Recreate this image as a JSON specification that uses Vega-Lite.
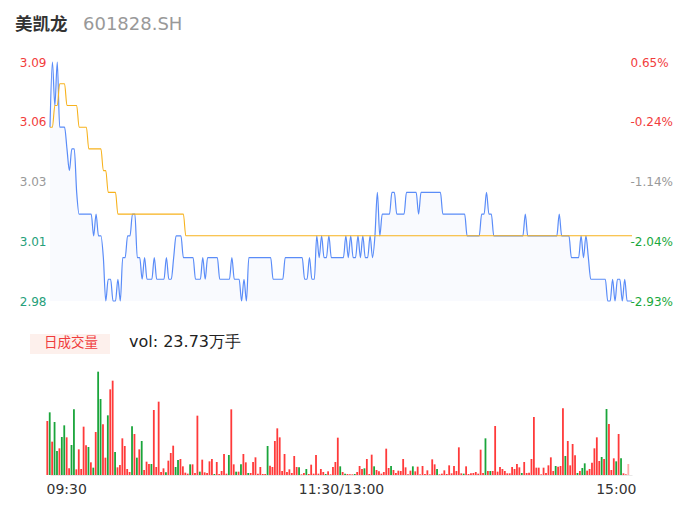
{
"$schema": "https://vega.github.io/schema/vega-lite/v6.json",
"width": 582, "height": 413,
"autosize": "none",
"padding": {"left": 50, "top": 62, "right": 54, "bottom": 49},
"background": "white",
"config": {"view": {"stroke": null}, "font": "DejaVu Sans"},
"data": {"values": [
{"i":0,"p":3.06,"a":3.06,"v":2592,"d":"u"},{"i":1,"p":3.09,"a":3.06,"v":3008,"d":"d"},{"i":2,"p":3.07,"a":3.07,"v":1600,"d":"u"},{"i":3,"p":3.09,"a":3.07,"v":2544,"d":"d"},{"i":4,"p":3.06,"a":3.08,"v":1152,"d":"d"},{"i":5,"p":3.06,"a":3.08,"v":1280,"d":"u"},{"i":6,"p":3.06,"a":3.08,"v":1824,"d":"d"},{"i":7,"p":3.05,"a":3.07,"v":2384,"d":"d"},{"i":8,"p":3.04,"a":3.07,"v":1808,"d":"u"},{"i":9,"p":3.05,"a":3.07,"v":320,"d":"u"},
{"i":10,"p":3.05,"a":3.07,"v":1440,"d":"d"},{"i":11,"p":3.03,"a":3.07,"v":3152,"d":"d"},{"i":12,"p":3.02,"a":3.06,"v":272,"d":"u"},{"i":13,"p":3.02,"a":3.06,"v":1232,"d":"u"},{"i":14,"p":3.02,"a":3.06,"v":288,"d":"u"},{"i":15,"p":3.02,"a":3.06,"v":2320,"d":"u"},{"i":16,"p":3.02,"a":3.05,"v":1424,"d":"u"},{"i":17,"p":3.02,"a":3.05,"v":1344,"d":"d"},{"i":18,"p":3.01,"a":3.05,"v":608,"d":"u"},{"i":19,"p":3.02,"a":3.05,"v":352,"d":"d"},
{"i":20,"p":3.01,"a":3.05,"v":2064,"d":"u"},{"i":21,"p":3.01,"a":3.05,"v":4960,"d":"d"},{"i":22,"p":3.00,"a":3.04,"v":3648,"d":"d"},{"i":23,"p":2.98,"a":3.04,"v":2432,"d":"u"},{"i":24,"p":2.99,"a":3.03,"v":832,"d":"u"},{"i":25,"p":2.99,"a":3.03,"v":2864,"d":"d"},{"i":26,"p":2.98,"a":3.03,"v":4112,"d":"u"},{"i":27,"p":2.98,"a":3.03,"v":4528,"d":"u"},{"i":28,"p":2.99,"a":3.02,"v":1104,"d":"d"},{"i":29,"p":2.98,"a":3.02,"v":368,"d":"u"},
{"i":30,"p":3.00,"a":3.02,"v":480,"d":"u"},{"i":31,"p":3.00,"a":3.02,"v":1760,"d":"u"},{"i":32,"p":3.01,"a":3.02,"v":1392,"d":"u"},{"i":33,"p":3.01,"a":3.02,"v":288,"d":"u"},{"i":34,"p":3.02,"a":3.02,"v":144,"d":"u"},{"i":35,"p":3.02,"a":3.02,"v":2336,"d":"d"},{"i":36,"p":3.00,"a":3.02,"v":1968,"d":"u"},{"i":37,"p":3.00,"a":3.02,"v":832,"d":"d"},{"i":38,"p":2.99,"a":3.02,"v":1232,"d":"u"},{"i":39,"p":3.00,"a":3.02,"v":1632,"d":"d"},
{"i":40,"p":2.99,"a":3.02,"v":240,"d":"u"},{"i":41,"p":2.99,"a":3.02,"v":640,"d":"u"},{"i":42,"p":2.99,"a":3.02,"v":528,"d":"u"},{"i":43,"p":3.00,"a":3.02,"v":528,"d":"d"},{"i":44,"p":2.99,"a":3.02,"v":3120,"d":"u"},{"i":45,"p":2.99,"a":3.02,"v":384,"d":"u"},{"i":46,"p":2.99,"a":3.02,"v":3520,"d":"u"},{"i":47,"p":2.99,"a":3.02,"v":144,"d":"u"},{"i":48,"p":3.00,"a":3.02,"v":320,"d":"u"},{"i":49,"p":2.99,"a":3.02,"v":128,"d":"d"},
{"i":50,"p":2.99,"a":3.02,"v":688,"d":"u"},{"i":51,"p":3.00,"a":3.02,"v":1056,"d":"u"},{"i":52,"p":3.01,"a":3.02,"v":1408,"d":"u"},{"i":53,"p":3.01,"a":3.02,"v":384,"d":"d"},{"i":54,"p":3.01,"a":3.02,"v":720,"d":"d"},{"i":55,"p":3.00,"a":3.02,"v":768,"d":"u"},{"i":56,"p":3.00,"a":3.01,"v":416,"d":"u"},{"i":57,"p":3.00,"a":3.01,"v":112,"d":"u"},{"i":58,"p":3.00,"a":3.01,"v":64,"d":"u"},{"i":59,"p":3.00,"a":3.01,"v":512,"d":"d"},
{"i":60,"p":2.99,"a":3.01,"v":512,"d":"u"},{"i":61,"p":2.99,"a":3.01,"v":96,"d":"u"},{"i":62,"p":2.99,"a":3.01,"v":2848,"d":"u"},{"i":63,"p":3.00,"a":3.01,"v":160,"d":"d"},{"i":64,"p":2.99,"a":3.01,"v":736,"d":"u"},{"i":65,"p":3.00,"a":3.01,"v":128,"d":"u"},{"i":66,"p":3.00,"a":3.01,"v":96,"d":"u"},{"i":67,"p":3.00,"a":3.01,"v":656,"d":"u"},{"i":68,"p":3.00,"a":3.01,"v":768,"d":"u"},{"i":69,"p":3.00,"a":3.01,"v":48,"d":"d"},
{"i":70,"p":2.99,"a":3.01,"v":624,"d":"u"},{"i":71,"p":2.99,"a":3.01,"v":48,"d":"u"},{"i":72,"p":2.99,"a":3.01,"v":192,"d":"u"},{"i":73,"p":2.99,"a":3.01,"v":1008,"d":"u"},{"i":74,"p":2.99,"a":3.01,"v":64,"d":"u"},{"i":75,"p":3.00,"a":3.01,"v":960,"d":"d"},{"i":76,"p":2.99,"a":3.01,"v":3152,"d":"u"},{"i":77,"p":2.99,"a":3.01,"v":512,"d":"u"},{"i":78,"p":2.99,"a":3.01,"v":160,"d":"d"},{"i":79,"p":2.98,"a":3.01,"v":160,"d":"u"},
{"i":80,"p":2.99,"a":3.01,"v":512,"d":"d"},{"i":81,"p":2.98,"a":3.01,"v":1008,"d":"u"},{"i":82,"p":3.00,"a":3.01,"v":608,"d":"u"},{"i":83,"p":3.00,"a":3.01,"v":96,"d":"d"},{"i":84,"p":3.00,"a":3.01,"v":96,"d":"u"},{"i":85,"p":3.00,"a":3.01,"v":624,"d":"u"},{"i":86,"p":3.00,"a":3.01,"v":848,"d":"u"},{"i":87,"p":3.00,"a":3.01,"v":64,"d":"u"},{"i":88,"p":3.00,"a":3.01,"v":384,"d":"u"},{"i":89,"p":3.00,"a":3.01,"v":48,"d":"u"},
{"i":90,"p":3.00,"a":3.01,"v":48,"d":"u"},{"i":91,"p":3.00,"a":3.01,"v":1392,"d":"d"},{"i":92,"p":2.99,"a":3.01,"v":448,"d":"u"},{"i":93,"p":2.99,"a":3.01,"v":384,"d":"u"},{"i":94,"p":2.99,"a":3.01,"v":1632,"d":"u"},{"i":95,"p":2.99,"a":3.01,"v":2240,"d":"u"},{"i":96,"p":2.99,"a":3.01,"v":1808,"d":"u"},{"i":97,"p":3.00,"a":3.01,"v":192,"d":"u"},{"i":98,"p":3.00,"a":3.01,"v":1008,"d":"u"},{"i":99,"p":3.00,"a":3.01,"v":144,"d":"u"},
{"i":100,"p":3.00,"a":3.01,"v":272,"d":"u"},{"i":101,"p":3.00,"a":3.01,"v":96,"d":"u"},{"i":102,"p":3.00,"a":3.01,"v":912,"d":"u"},{"i":103,"p":3.00,"a":3.01,"v":384,"d":"u"},{"i":104,"p":3.00,"a":3.01,"v":368,"d":"d"},{"i":105,"p":2.99,"a":3.01,"v":32,"d":"u"},{"i":106,"p":2.99,"a":3.01,"v":96,"d":"u"},{"i":107,"p":3.00,"a":3.01,"v":288,"d":"d"},{"i":108,"p":2.99,"a":3.01,"v":48,"d":"u"},{"i":109,"p":2.99,"a":3.01,"v":496,"d":"u"},
{"i":110,"p":3.01,"a":3.01,"v":64,"d":"u"},{"i":111,"p":3.00,"a":3.01,"v":960,"d":"u"},{"i":112,"p":3.01,"a":3.01,"v":64,"d":"u"},{"i":113,"p":3.00,"a":3.01,"v":288,"d":"u"},{"i":114,"p":3.00,"a":3.01,"v":144,"d":"u"},{"i":115,"p":3.01,"a":3.01,"v":48,"d":"d"},{"i":116,"p":3.00,"a":3.01,"v":176,"d":"u"},{"i":117,"p":3.00,"a":3.01,"v":32,"d":"u"},{"i":118,"p":3.00,"a":3.01,"v":384,"d":"u"},{"i":119,"p":3.00,"a":3.01,"v":624,"d":"u"},
{"i":120,"p":3.00,"a":3.01,"v":1792,"d":"u"},{"i":121,"p":3.00,"a":3.01,"v":416,"d":"d"},{"i":122,"p":3.01,"a":3.01,"v":144,"d":"u"},{"i":123,"p":3.00,"a":3.01,"v":64,"d":"d"},{"i":124,"p":3.01,"a":3.01,"v":48,"d":"u"},{"i":125,"p":3.00,"a":3.01,"v":32,"d":"u"},{"i":126,"p":3.00,"a":3.01,"v":32,"d":"u"},{"i":127,"p":3.01,"a":3.01,"v":48,"d":"d"},{"i":128,"p":3.00,"a":3.01,"v":144,"d":"u"},{"i":129,"p":3.01,"a":3.01,"v":432,"d":"u"},
{"i":130,"p":3.00,"a":3.01,"v":288,"d":"u"},{"i":131,"p":3.00,"a":3.01,"v":320,"d":"d"},{"i":132,"p":3.01,"a":3.01,"v":768,"d":"u"},{"i":133,"p":3.00,"a":3.01,"v":48,"d":"u"},{"i":134,"p":3.01,"a":3.01,"v":976,"d":"u"},{"i":135,"p":3.03,"a":3.01,"v":416,"d":"d"},{"i":136,"p":3.01,"a":3.01,"v":240,"d":"u"},{"i":137,"p":3.02,"a":3.01,"v":176,"d":"u"},{"i":138,"p":3.02,"a":3.01,"v":64,"d":"u"},{"i":139,"p":3.02,"a":3.01,"v":144,"d":"u"},
{"i":140,"p":3.02,"a":3.01,"v":1264,"d":"u"},{"i":141,"p":3.03,"a":3.01,"v":336,"d":"u"},{"i":142,"p":3.03,"a":3.01,"v":432,"d":"d"},{"i":143,"p":3.02,"a":3.01,"v":240,"d":"u"},{"i":144,"p":3.02,"a":3.01,"v":96,"d":"u"},{"i":145,"p":3.02,"a":3.01,"v":208,"d":"u"},{"i":146,"p":3.02,"a":3.01,"v":192,"d":"u"},{"i":147,"p":3.03,"a":3.01,"v":768,"d":"u"},{"i":148,"p":3.03,"a":3.01,"v":368,"d":"u"},{"i":149,"p":3.03,"a":3.01,"v":32,"d":"u"},
{"i":150,"p":3.03,"a":3.01,"v":208,"d":"u"},{"i":151,"p":3.03,"a":3.01,"v":416,"d":"d"},{"i":152,"p":3.02,"a":3.01,"v":176,"d":"u"},{"i":153,"p":3.03,"a":3.01,"v":400,"d":"u"},{"i":154,"p":3.03,"a":3.01,"v":32,"d":"u"},{"i":155,"p":3.03,"a":3.01,"v":432,"d":"u"},{"i":156,"p":3.03,"a":3.01,"v":48,"d":"u"},{"i":157,"p":3.03,"a":3.01,"v":224,"d":"u"},{"i":158,"p":3.03,"a":3.01,"v":32,"d":"u"},{"i":159,"p":3.03,"a":3.01,"v":752,"d":"u"},
{"i":160,"p":3.03,"a":3.01,"v":512,"d":"u"},{"i":161,"p":3.03,"a":3.01,"v":288,"d":"d"},{"i":162,"p":3.02,"a":3.01,"v":32,"d":"u"},{"i":163,"p":3.02,"a":3.01,"v":64,"d":"u"},{"i":164,"p":3.02,"a":3.01,"v":224,"d":"u"},{"i":165,"p":3.02,"a":3.01,"v":48,"d":"u"},{"i":166,"p":3.02,"a":3.01,"v":464,"d":"u"},{"i":167,"p":3.02,"a":3.01,"v":80,"d":"u"},{"i":168,"p":3.02,"a":3.01,"v":432,"d":"u"},{"i":169,"p":3.02,"a":3.01,"v":192,"d":"u"},
{"i":170,"p":3.02,"a":3.01,"v":1328,"d":"u"},{"i":171,"p":3.02,"a":3.01,"v":80,"d":"u"},{"i":172,"p":3.01,"a":3.01,"v":64,"d":"d"},{"i":173,"p":3.01,"a":3.01,"v":416,"d":"u"},{"i":174,"p":3.01,"a":3.01,"v":48,"d":"u"},{"i":175,"p":3.01,"a":3.01,"v":80,"d":"u"},{"i":176,"p":3.01,"a":3.01,"v":96,"d":"u"},{"i":177,"p":3.01,"a":3.01,"v":144,"d":"u"},{"i":178,"p":3.02,"a":3.01,"v":64,"d":"u"},{"i":179,"p":3.02,"a":3.01,"v":1216,"d":"u"},
{"i":180,"p":3.03,"a":3.01,"v":96,"d":"u"},{"i":181,"p":3.02,"a":3.01,"v":1760,"d":"d"},{"i":182,"p":3.02,"a":3.01,"v":192,"d":"u"},{"i":183,"p":3.01,"a":3.01,"v":192,"d":"d"},{"i":184,"p":3.01,"a":3.01,"v":192,"d":"u"},{"i":185,"p":3.01,"a":3.01,"v":2352,"d":"u"},{"i":186,"p":3.01,"a":3.01,"v":160,"d":"u"},{"i":187,"p":3.01,"a":3.01,"v":384,"d":"u"},{"i":188,"p":3.01,"a":3.01,"v":288,"d":"u"},{"i":189,"p":3.01,"a":3.01,"v":192,"d":"u"},
{"i":190,"p":3.01,"a":3.01,"v":80,"d":"u"},{"i":191,"p":3.01,"a":3.01,"v":80,"d":"u"},{"i":192,"p":3.01,"a":3.01,"v":384,"d":"u"},{"i":193,"p":3.01,"a":3.01,"v":288,"d":"u"},{"i":194,"p":3.01,"a":3.01,"v":528,"d":"u"},{"i":195,"p":3.01,"a":3.01,"v":368,"d":"u"},{"i":196,"p":3.02,"a":3.01,"v":96,"d":"d"},{"i":197,"p":3.01,"a":3.01,"v":624,"d":"u"},{"i":198,"p":3.01,"a":3.01,"v":96,"d":"u"},{"i":199,"p":3.01,"a":3.01,"v":112,"d":"u"},
{"i":200,"p":3.01,"a":3.01,"v":768,"d":"u"},{"i":201,"p":3.01,"a":3.01,"v":2784,"d":"u"},{"i":202,"p":3.01,"a":3.01,"v":352,"d":"u"},{"i":203,"p":3.01,"a":3.01,"v":352,"d":"u"},{"i":204,"p":3.01,"a":3.01,"v":32,"d":"u"},{"i":205,"p":3.01,"a":3.01,"v":352,"d":"u"},{"i":206,"p":3.01,"a":3.01,"v":96,"d":"u"},{"i":207,"p":3.01,"a":3.01,"v":464,"d":"u"},{"i":208,"p":3.01,"a":3.01,"v":848,"d":"u"},{"i":209,"p":3.01,"a":3.01,"v":192,"d":"u"},
{"i":210,"p":3.02,"a":3.01,"v":432,"d":"d"},{"i":211,"p":3.01,"a":3.01,"v":400,"d":"u"},{"i":212,"p":3.01,"a":3.01,"v":432,"d":"u"},{"i":213,"p":3.01,"a":3.01,"v":3200,"d":"u"},{"i":214,"p":3.01,"a":3.01,"v":912,"d":"d"},{"i":215,"p":3.00,"a":3.01,"v":1632,"d":"u"},{"i":216,"p":3.00,"a":3.01,"v":464,"d":"u"},{"i":217,"p":3.00,"a":3.01,"v":1488,"d":"u"},{"i":218,"p":3.00,"a":3.01,"v":944,"d":"u"},{"i":219,"p":3.01,"a":3.01,"v":96,"d":"d"},
{"i":220,"p":3.00,"a":3.01,"v":192,"d":"u"},{"i":221,"p":3.01,"a":3.01,"v":336,"d":"d"},{"i":222,"p":3.00,"a":3.01,"v":560,"d":"d"},{"i":223,"p":2.99,"a":3.01,"v":208,"d":"u"},{"i":224,"p":2.99,"a":3.01,"v":288,"d":"u"},{"i":225,"p":2.99,"a":3.01,"v":592,"d":"u"},{"i":226,"p":2.99,"a":3.01,"v":1280,"d":"u"},{"i":227,"p":2.99,"a":3.01,"v":1808,"d":"u"},{"i":228,"p":2.99,"a":3.01,"v":672,"d":"u"},{"i":229,"p":2.99,"a":3.01,"v":864,"d":"d"},
{"i":230,"p":2.98,"a":3.01,"v":768,"d":"u"},{"i":231,"p":2.98,"a":3.01,"v":3168,"d":"d"},{"i":232,"p":2.99,"a":3.01,"v":2448,"d":"u"},{"i":233,"p":2.98,"a":3.01,"v":240,"d":"u"},{"i":234,"p":2.99,"a":3.01,"v":800,"d":"u"},{"i":235,"p":2.99,"a":3.01,"v":656,"d":"d"},{"i":236,"p":2.98,"a":3.01,"v":1968,"d":"u"},{"i":237,"p":2.99,"a":3.01,"v":800,"d":"d"},{"i":238,"p":2.98,"a":3.01,"v":80,"d":"u"},{"i":239,"p":2.98,"a":3.01,"v":32,"d":"u"},
{"i":240,"p":2.98,"a":3.01,"v":528,"d":"f"}
]},
"layer": [
{"data": {"values": [{"k": "bg"}]}, "mark": {"type": "rect", "color": "#fdf0ec"}, "encoding": {"x": {"value": -20}, "x2": {"value": 60}, "y": {"value": 272}, "y2": {"value": 292}}},
{"data": {"values": [{"txt": "日成交量"}]}, "mark": {"type": "text", "align": "center", "baseline": "middle", "font": "Noto Sans CJK SC", "fontSize": 13.5, "color": "#f03c3c"}, "encoding": {"text": {"field": "txt"}, "x": {"value": 21}, "y": {"value": 281}}},
{"data": {"values": [{"txt": "vol: 23.73万手"}]}, "mark": {"type": "text", "align": "left", "baseline": "middle", "font": "DejaVu Sans", "fontSize": 16, "color": "#222222"}, "encoding": {"text": {"field": "txt"}, "x": {"value": 79}, "y": {"value": 280}}},
{"data": {"values": [{"txt": "美凯龙"}]}, "mark": {"type": "text", "align": "left", "baseline": "middle", "font": "Noto Sans CJK SC", "fontSize": 17.5, "fontWeight": "bold", "color": "#333333"}, "encoding": {"text": {"field": "txt"}, "x": {"value": -35}, "y": {"value": -37}}},
{"data": {"values": [{"txt": "601828.SH"}]}, "mark": {"type": "text", "align": "left", "baseline": "middle", "font": "DejaVu Sans", "fontSize": 18, "color": "#999999"}, "encoding": {"text": {"field": "txt"}, "x": {"value": 33}, "y": {"value": -37}}},
{"mark": {"type": "area", "interpolate": "monotone", "color": "#f6f8fe", "line": {"color": "#5a8cf8", "strokeWidth": 1.2}},
 "encoding": {
  "x": {"field": "i", "type": "quantitative", "scale": {"domain": [0, 240], "nice": false, "zero": false},
        "axis": {"orient": "bottom", "values": [0, 120, 240], "labelExpr": "datum.value == 0 ? '09:30' : datum.value == 240 ? '15:00' : '11:30/13:00'", "labelFlush": true, "labelFlushOffset": 4, "ticks": false, "grid": false, "domain": true, "domainColor": "#e8e8e8", "labelFontSize": 14, "labelColor": "#333333", "labelPadding": 7, "title": null}},
  "y": {"field": "p", "type": "quantitative", "scale": {"domain": [2.98, 3.09], "range": [239, 0], "nice": false, "zero": false},
        "axis": {"orient": "left", "values": [2.98, 3.0075, 3.035, 3.0625, 3.09], "labelExpr": "datum.value > 3.08 ? '3.09' : datum.value > 3.05 ? '3.06' : datum.value > 3.02 ? '3.03' : datum.value > 3.0 ? '3.01' : '2.98'", "grid": false, "ticks": false, "domain": false, "labelPadding": 4, "labelFontSize": 12, "labelOverlap": false,
                 "labelColor": {"condition": [{"test": "datum.value > 3.04", "value": "#f23c3c"}, {"test": "datum.value < 3.03", "value": "#26a07a"}], "value": "#999999"}, "title": null}},
  "y2": {"datum": 2.98}
 }},
{"mark": {"type": "line", "interpolate": "monotone", "color": "#f7b21c", "strokeWidth": 1.1},
 "encoding": {
  "x": {"field": "i", "type": "quantitative", "scale": {"domain": [0, 240], "nice": false, "zero": false}, "axis": null},
  "y": {"field": "a", "type": "quantitative", "scale": {"domain": [2.98, 3.09], "range": [239, 0], "nice": false, "zero": false},
        "axis": {"orient": "right", "values": [2.98, 3.0075, 3.035, 3.0625, 3.09], "labelExpr": "datum.value > 3.08 ? '0.65%' : datum.value > 3.05 ? '-0.24%' : datum.value > 3.02 ? '-1.14%' : datum.value > 3.0 ? '-2.04%' : '-2.93%'", "grid": false, "ticks": false, "domain": false, "labelPadding": -2, "labelFontSize": 12, "labelOverlap": false,
                 "labelColor": {"condition": [{"test": "datum.value > 3.04", "value": "#f23c3c"}, {"test": "datum.value < 3.03", "value": "#1aa83c"}], "value": "#999999"}, "title": null}}
 }},
{"mark": {"type": "bar", "width": 1.8},
 "encoding": {
  "x": {"field": "i", "type": "quantitative", "scale": {"domain": [0, 240], "range": [-7.7, 583.3], "nice": false, "zero": false}, "axis": null},
  "y": {"field": "v", "type": "quantitative", "scale": {"domain": [0, 4944], "range": [413, 310], "nice": false}, "axis": null},
  "color": {"field": "d", "type": "nominal", "scale": {"domain": ["u", "d", "f"], "range": ["#ff3a3a", "#1aa53b", "#ffaaaa"]}, "legend": null}
 }}
],
"resolve": {"scale": {"x": "independent", "y": "independent", "color": "independent"}, "axis": {"x": "independent", "y": "independent"}}
}
